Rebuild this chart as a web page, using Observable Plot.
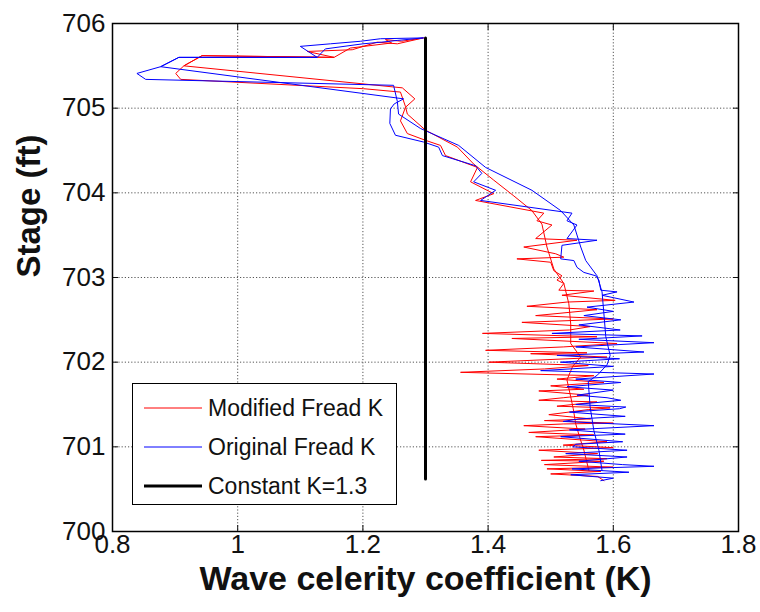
<!DOCTYPE html>
<html>
<head>
<meta charset="utf-8">
<script src="https://cdn.jsdelivr.net/npm/d3@7"></script>
<script src="https://cdn.jsdelivr.net/npm/@observablehq/plot@0.6"></script>
<style>
  html, body { margin: 0; padding: 0; background: #fff; }
  #wrap { position: relative; width: 760px; height: 612px; font-family: "Liberation Sans", Arial, Helvetica, sans-serif; }
  #legend { position: absolute; left: 132px; top: 383px; width: 263px; height: 120px; border: 1.5px solid #000; background: #fff; }
  .row { position: absolute; left: 0; height: 30px; display: flex; align-items: center; font-size: 23px; color: #111; }
  .row svg { margin-left: 11px; margin-right: 6px; }
</style>
</head>
<body>
<div id="wrap"><div id="chart"></div><div id="legend"></div></div>
<script>
// ---- data: [K, stage] pairs ----
const xTicks = [0.8, 1, 1.2, 1.4, 1.6, 1.8];
const yTicks = [700, 701, 702, 703, 704, 705, 706];
const seriesNames = ["Modified Fread K", "Original Fread K", "Constant K=1.3"];
const seriesColors = ["#ff0000", "#0000ff", "#000000"];

// Modified Fread K (red)
const redRising = [[1.561,700.72],[1.553,700.96],[1.546,701.12],[1.540,701.27],[1.536,701.45],[1.532,701.59],[1.526,701.79],[1.535,701.95],[1.548,702.06],[1.532,702.22],[1.532,702.45],[1.529,702.69],[1.521,702.93],[1.505,703.10],[1.494,703.36],[1.486,703.63],[1.470,703.79],[1.440,703.97],[1.409,704.15],[1.377,704.34],[1.351,704.54],[1.300,704.74],[1.271,704.93],[1.268,705.02],[1.260,705.19]];
const redTop = [[1.201,705.23],[0.909,705.34],[0.901,705.41],[0.914,705.50],[0.943,705.62],[1.154,705.60],[1.111,705.67],[1.183,705.69],[1.223,705.78],[1.255,705.76],[1.297,705.83],[1.262,705.79],[1.236,705.81],[1.246,705.77],[1.180,705.71],[1.154,705.60],[0.943,705.62],[0.914,705.50],[1.263,705.24],[1.283,705.11]];
const redUpper = [[1.268,705.01],[1.260,704.85],[1.271,704.70],[1.300,704.62],[1.324,704.56],[1.332,704.44],[1.383,704.30],[1.372,704.13],[1.409,703.99],[1.380,703.91],[1.489,703.76],[1.478,703.67],[1.502,703.62],[1.476,703.46],[1.542,703.44],[1.457,703.36],[1.508,703.28],[1.521,703.24],[1.446,703.22],[1.500,703.18],[1.505,703.08],[1.518,703.02],[1.510,702.97],[1.521,702.93],[1.513,702.85],[1.569,702.84],[1.518,702.79],[1.603,702.73],[1.526,702.71],[1.462,702.66]];
const redNoisy = [[1.574,702.62],[1.476,702.55],[1.600,702.51],[1.454,702.47],[1.563,702.42],[1.530,702.38],[1.391,702.34],[1.574,702.30],[1.438,702.28],[1.606,702.22],[1.520,702.18],[1.396,702.14],[1.558,702.11],[1.468,702.10],[1.590,702.06],[1.401,702.00],[1.560,701.96],[1.490,701.92],[1.356,701.88],[1.569,701.84],[1.510,701.80],[1.585,701.76],[1.500,701.72],[1.553,701.68],[1.481,701.66],[1.560,701.61],[1.520,701.58],[1.481,701.55],[1.574,701.53],[1.510,701.48],[1.595,701.46],[1.560,701.44],[1.497,701.38],[1.564,701.33],[1.490,701.31],[1.600,701.28],[1.520,701.27],[1.457,701.25],[1.555,701.21],[1.465,701.17],[1.569,701.14],[1.476,701.12],[1.590,701.06],[1.520,701.02],[1.600,700.99],[1.481,700.96],[1.575,700.92],[1.505,700.88],[1.590,700.86],[1.485,700.84],[1.585,700.83],[1.490,700.79],[1.600,700.76],[1.494,700.74],[1.580,700.71],[1.500,700.68],[1.575,700.65],[1.585,700.60]];

// Original Fread K (blue)
const blueRising = [[1.582,700.72],[1.577,700.96],[1.569,701.19],[1.563,701.47],[1.560,701.77],[1.575,701.85],[1.590,701.97],[1.595,702.08],[1.588,702.30],[1.585,702.57],[1.582,702.83],[1.574,703.02],[1.556,703.20],[1.548,703.36],[1.537,703.62],[1.516,703.79],[1.470,704.03],[1.396,704.30],[1.353,704.56],[1.292,704.76],[1.257,704.93],[1.255,705.08],[1.249,705.27]];
const blueTop = [[0.853,705.34],[0.839,705.41],[0.877,705.49],[0.906,705.60],[1.127,705.60],[1.100,705.73],[1.148,705.76],[1.196,705.79],[1.228,705.82],[1.297,705.83],[1.255,705.80],[1.230,705.78],[1.200,705.76],[1.140,705.70],[1.127,705.60],[0.906,705.60],[0.877,705.49],[1.265,705.11]];
const blueUpper = [[1.250,705.05],[1.244,704.99],[1.243,704.82],[1.252,704.68],[1.297,704.60],[1.321,704.54],[1.327,704.44],[1.380,704.32],[1.390,704.23],[1.377,704.13],[1.412,704.03],[1.388,703.91],[1.534,703.76],[1.526,703.67],[1.542,703.62],[1.526,703.46],[1.574,703.44],[1.518,703.38],[1.516,703.22],[1.537,703.20],[1.542,703.12],[1.553,703.06],[1.572,703.02],[1.577,702.97],[1.580,702.85],[1.606,702.83],[1.582,702.79],[1.633,702.71],[1.558,702.65]];
const blueNoisy = [[1.600,702.60],[1.553,702.55],[1.612,702.50],[1.545,702.44],[1.611,702.38],[1.502,702.34],[1.646,702.31],[1.545,702.27],[1.665,702.23],[1.540,702.18],[1.649,702.12],[1.510,702.08],[1.610,702.04],[1.516,702.00],[1.600,701.95],[1.484,701.90],[1.665,701.86],[1.540,701.80],[1.612,701.76],[1.526,701.71],[1.600,701.67],[1.542,701.61],[1.590,701.58],[1.612,701.55],[1.540,701.50],[1.620,701.47],[1.610,701.45],[1.530,701.41],[1.619,701.36],[1.545,701.33],[1.520,701.30],[1.665,701.25],[1.530,701.20],[1.619,701.15],[1.516,701.12],[1.615,701.06],[1.540,701.03],[1.535,701.00],[1.622,700.96],[1.524,700.92],[1.622,700.88],[1.545,700.83],[1.615,700.79],[1.665,700.77],[1.534,700.74],[1.625,700.70],[1.532,700.67],[1.600,700.63],[1.580,700.60]];

// Constant K = 1.3
const constantK = [[1.3,700.62],[1.3,705.83]];

const red = [...redRising, ...redTop, ...redUpper, ...redNoisy];
const blue = [...blueRising, ...blueTop, ...blueUpper, ...blueNoisy];

const fmt = d => String(d);
const chart = Plot.plot({
  width: 760, height: 612,
  marginLeft: 112, marginRight: 22, marginTop: 23, marginBottom: 81,
  style: { fontFamily: '"Liberation Sans", Arial, Helvetica, sans-serif', fontSize: "26px", color: "#111", background: "#fff" },
  x: { domain: [0.8, 1.8] },
  y: { domain: [700, 706] },
  marks: [
    Plot.gridX(xTicks.slice(1, -1), { stroke: "#555", strokeOpacity: 1, strokeWidth: 1, strokeDasharray: "1.2,2" }),
    Plot.gridY(yTicks.slice(1, -1), { stroke: "#555", strokeOpacity: 1, strokeWidth: 1, strokeDasharray: "1.2,2" }),
    Plot.line(red, { x: d => d[0], y: d => d[1], stroke: seriesColors[0], strokeWidth: 1, curve: "linear" }),
    Plot.line(blue, { x: d => d[0], y: d => d[1], stroke: seriesColors[1], strokeWidth: 1, curve: "linear" }),
    Plot.line(constantK, { x: d => d[0], y: d => d[1], stroke: seriesColors[2], strokeWidth: 3 }),
    Plot.axisX({ ticks: xTicks, tickFormat: fmt, tickSize: -6, tickPadding: 9, label: null }),
    Plot.axisX({ anchor: "top", ticks: xTicks, tickFormat: () => "", tickSize: -6, label: null }),
    Plot.axisY({ ticks: yTicks, tickFormat: fmt, tickSize: -6, tickPadding: 13, label: null }),
    Plot.axisY({ anchor: "right", ticks: yTicks, tickFormat: () => "", tickSize: -6, label: null }),
    Plot.frame({ stroke: "#000", strokeWidth: 1.5 }),
    Plot.text(["Wave celerity coefficient (K)"], { frameAnchor: "bottom", dy: 48, lineAnchor: "middle", text: d => d, fontSize: 34, fontWeight: "bold", fill: "#111" }),
    Plot.text(["Stage (ft)"], { frameAnchor: "left", dx: -83, rotate: -90, text: d => d, fontSize: 33, fontWeight: "bold", fill: "#111" })
  ]
});
document.getElementById("chart").appendChild(chart);

// legend
const legend = document.getElementById("legend");
const rowTops = [9, 48, 87];
seriesNames.forEach((name, i) => {
  const row = document.createElement("div");
  row.className = "row";
  row.style.top = rowTops[i] + "px";
  row.innerHTML = `<svg width="58" height="6"><line x1="0" y1="3" x2="58" y2="3" stroke="${seriesColors[i]}" stroke-width="${i === 2 ? 3 : 1}"/></svg><span>${name}</span>`;
  legend.appendChild(row);
});
</script>
</body>
</html>
